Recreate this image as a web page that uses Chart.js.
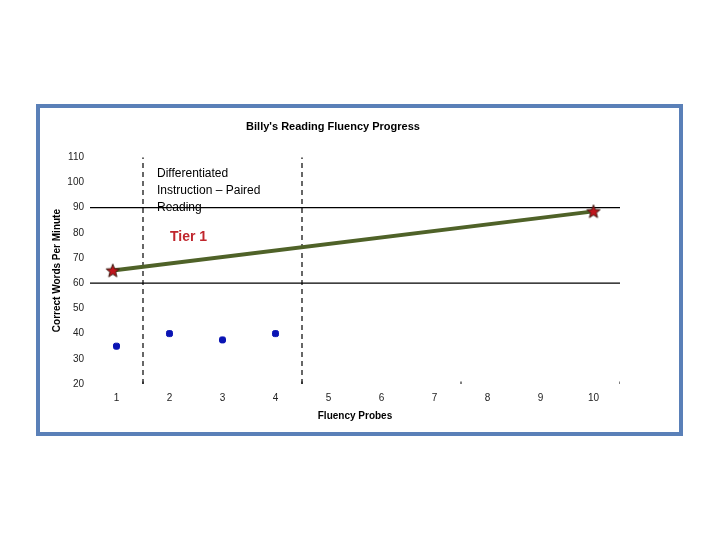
<!DOCTYPE html>
<html>
<head>
<meta charset="utf-8">
<script src="https://cdn.jsdelivr.net/npm/chart.js@4/dist/chart.umd.min.js"></script>
<style>
  body { margin: 0; background: #fff; }
  #cadre { position: absolute; left: 36px; top: 104px; width: 639px; height: 324px; border: 4px solid #5a80b8; background: #fff; }
  #zone { position: absolute; left: 0; top: 0; width: 720px; height: 540px; }
  .note { position: absolute; font-family: "Liberation Sans", Arial, sans-serif; }
  #diff { left: 157px; top: 165px; font-size: 12px; line-height: 17px; color: #000; width: 125px; }
  #tier { left: 170px; top: 228px; font-size: 14px; font-weight: bold; color: #c0262d; }
</style>
</head>
<body>
<div id="cadre"></div>
<div id="zone"><canvas id="graphique" width="720" height="540"></canvas></div>
<div class="note" id="diff">Differentiated Instruction – Paired Reading</div>
<div class="note" id="tier">Tier 1</div>
<script>
// Données
const sondes = [1, 2, 3, 4];
const motsParMinute = [35, 40, 37.5, 40];
const objectifX = [0.93, 10];
const objectifY = [65, 88.5];
const lignesH = [90, 60];
const lignesPhase = [1.5, 4.5];
const repereBas = [1.5, 4.5, 7.5, 10.5];
const etiquettesX = ['1', '2', '3', '4', '5', '6', '7', '8', '9', '10'];
const yMin = 20, yMax = 110, xMin = 0.5, xMax = 10.5;

// Étoile rouge dessinée une fois pour servir de marqueur
function creerEtoile() {
    const c = document.createElement('canvas');
    c.width = 16; c.height = 16;
    const g = c.getContext('2d');
    g.beginPath();
    for (let i = 0; i < 10; i++) {
        const r = i % 2 === 0 ? 7 : 3;
        const a = -Math.PI / 2 + i * Math.PI / 5;
        const px = 8 + r * Math.cos(a), py = 8.5 + r * Math.sin(a);
        if (i === 0) g.moveTo(px, py); else g.lineTo(px, py);
    }
    g.closePath();
    g.fillStyle = '#c0141c';
    g.fill();
    g.lineWidth = 1;
    g.strokeStyle = '#3a1a10';
    g.stroke();
    return c;
}
const etoile = creerEtoile();

const datasets = [];

lignesH.forEach(v => {
    datasets.push({ type: 'line', data: [{ x: xMin, y: v }, { x: xMax, y: v }],
        borderColor: '#000', borderWidth: 1.2, pointRadius: 0, order: 5 });
});
lignesPhase.forEach(v => {
    datasets.push({ type: 'line', data: [{ x: v, y: yMin }, { x: v, y: yMax }],
        borderColor: '#000', borderWidth: 1.2, borderDash: [5, 4], pointRadius: 0, order: 5 });
});
datasets.push({ type: 'scatter', data: repereBas.map(v => ({ x: v, y: yMin })),
    pointStyle: 'line', rotation: 90, radius: 2.5, borderColor: '#000', borderWidth: 1, order: 5 });

datasets.push({ type: 'line', data: objectifX.map((v, i) => ({ x: v, y: objectifY[i] })),
    borderColor: '#4f6228', borderWidth: 4, pointRadius: 0, order: 3 });
datasets.push({ type: 'scatter', data: objectifX.map((v, i) => ({ x: v, y: objectifY[i] })),
    pointStyle: etoile, order: 1 });
datasets.push({ type: 'scatter', data: sondes.map((v, i) => ({ x: v, y: motsParMinute[i] })),
    pointStyle: 'rectRounded', radius: 3.5, backgroundColor: '#0a14b4', borderColor: '#0a14b4', order: 2 });

const police = "'Liberation Sans', Arial, sans-serif";

new Chart(document.getElementById('graphique').getContext('2d'), {
    type: 'scatter',
    data: { datasets: datasets },
    options: {
        responsive: false,
        animation: false,
        layout: { padding: { left: 46, right: 100, top: 112, bottom: 116 } },
        plugins: {
            legend: { display: false },
            tooltip: { enabled: false },
            title: {
                display: true,
                text: "Billy's Reading Fluency Progress",
                color: '#000',
                font: { family: police, size: 11, weight: 'bold' },
                padding: { top: 8, bottom: 24 }
            }
        },
        scales: {
            x: {
                type: 'linear', min: xMin, max: xMax,
                afterBuildTicks: s => { s.ticks = etiquettesX.map(t => ({ value: Number(t) })); },
                afterFit: s => { s.height = 40; },
                ticks: { color: '#222', font: { family: police, size: 10 }, padding: 8,
                    callback: v => etiquettesX[v - 1] },
                grid: { display: false, drawTicks: false, tickLength: 0 },
                border: { display: false },
                title: { display: true, text: 'Fluency Probes', color: '#000',
                    font: { family: police, size: 10, weight: 'bold' }, padding: { top: 0, bottom: 2 } }
            },
            y: {
                min: yMin, max: yMax,
                afterFit: s => { s.width = 44; },
                ticks: { stepSize: 10, color: '#222', font: { family: police, size: 10 }, padding: 6 },
                grid: { display: false, drawTicks: false, tickLength: 0 },
                border: { display: false },
                title: { display: true, text: 'Correct Words Per Minute', color: '#000',
                    font: { family: police, size: 10, weight: 'bold' }, padding: { top: 5, bottom: 0 } }
            }
        }
    }
});
</script>
</body>
</html>
